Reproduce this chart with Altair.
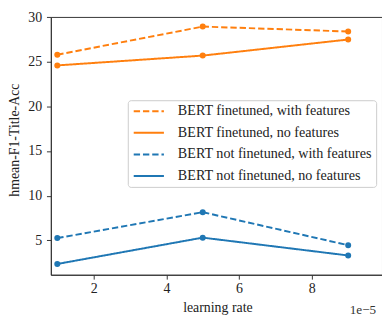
import altair as alt
import pandas as pd

series_names = [
    "BERT finetuned, with features",
    "BERT finetuned, no features",
    "BERT not finetuned, with features",
    "BERT not finetuned, no features",
]
learning_rates = [1, 5, 9]  # x 1e-5
ft_with = [25.8, 28.95, 28.4]
ft_no = [24.6, 25.7, 27.5]
nft_with = [5.25, 8.15, 4.45]
nft_no = [2.35, 5.3, 3.3]
series_values = [ft_with, ft_no, nft_with, nft_no]

series_colors = ["#ff7f0e", "#ff7f0e", "#1f77b4", "#1f77b4"]
series_dash = [[6.5, 3], [1, 0], [6.5, 3], [1, 0]]

rows = []
for name, vals in zip(series_names, series_values):
    for x, y in zip(learning_rates, vals):
        rows.append({"series": name, "lr": x, "score": y})
df = pd.DataFrame(rows)

FONT = "Liberation Serif"
W, H = 340, 264.7

x_enc = alt.X(
    "lr:Q",
    scale=alt.Scale(domain=[0.823, 9.93], nice=False, zero=False),
    axis=alt.Axis(
        values=[2, 4, 6, 8], title="learning rate", grid=False,
        titleY=37.3, titleBaseline="alphabetic", titleX=W / 2 + 1,
        labelFont=FONT, titleFont=FONT,
    ),
)
y_enc = alt.Y(
    "score:Q",
    scale=alt.Scale(domain=[1.14, 30.03], nice=False, zero=False),
    axis=alt.Axis(
        values=[5, 10, 15, 20, 25, 30], title="hmean-F1-Title-Acc", grid=False,
        titleAngle=270, titleX=-33.7, titleY=126, titleBaseline="alphabetic",
        titleAlign="center", labelPadding=5, labelFont=FONT, titleFont=FONT,
    ),
)

leg = alt.Legend(
    title=None, orient="none", legendX=79, legendY=85.5,
    symbolType="M-1,0H5", symbolSize=106.8, symbolStrokeWidth=2,
    labelOffset=32.9, padding=4, rowPadding=7.2, labelLimit=400,
    labelFont=FONT, labelFontSize=14.5, labelColor="#222",
    fillColor="white", strokeColor="#cccccc", cornerRadius=3,
    symbolFillColor="transparent",
)

lines = alt.Chart(df).mark_line(strokeWidth=2).encode(
    x=x_enc,
    y=y_enc,
    color=alt.Color("series:N", scale=alt.Scale(domain=series_names, range=series_colors), legend=leg),
    strokeDash=alt.StrokeDash("series:N", scale=alt.Scale(domain=series_names, range=series_dash), legend=leg),
)

points = alt.Chart(df).mark_circle(size=38, opacity=1).encode(
    x=x_enc,
    y=y_enc,
    fill=alt.Fill("series:N", scale=alt.Scale(domain=series_names, range=series_colors), legend=None),
)

chart = alt.layer(lines, points).properties(
    width=W,
    height=H,
    autosize=alt.AutoSizeParams(type="none"),
    padding={"left": 44, "top": 5, "right": 0, "bottom": 44},
    title=alt.TitleParams("1e\u22125", orient="bottom", anchor="end", font=FONT,
                          fontSize=13.5, fontWeight="normal", color="#333", dx=-6, dy=-15),
).configure(font=FONT).configure_view(stroke="#333", strokeWidth=1).configure_axis(
    domainColor="#333", tickColor="#333", tickSize=4.5, labelPadding=3,
    labelFont=FONT, labelFontSize=14.3, labelColor="#222",
    titleFont=FONT, titleFontSize=14.2, titleFontWeight="normal", titleColor="#222",
)

chart.save("out.html", embed_options={"renderer": "svg", "actions": False})
